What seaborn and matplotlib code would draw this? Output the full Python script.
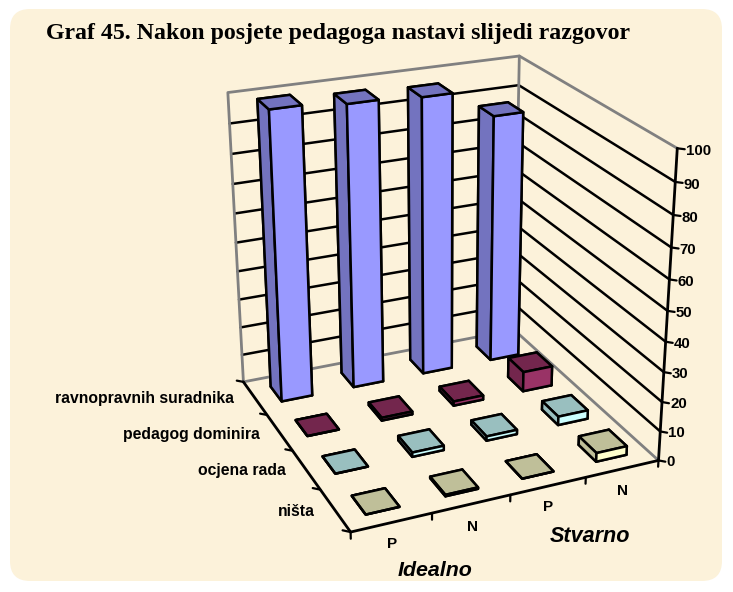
import matplotlib
matplotlib.use("Agg")

import matplotlib.pyplot as plt
import seaborn as sns
from matplotlib.patches import FancyBboxPatch
from matplotlib.transforms import IdentityTransform
from mpl_toolkits.mplot3d import proj3d

W, H = 733, 592

# ---------------------------------------------------------------------------
# DATA
# ---------------------------------------------------------------------------
COLUMN_LABELS = ["P", "N", "P", "N"]
ROW_LABELS = ["ništa", "ocjena rada", "pedagog dominira", "ravnopravnih suradnika"]
Z_TICKS = [0, 10, 20, 30, 40, 50, 60, 70, 80, 90, 100]

nista = [0, 0.5, 0, 3]
ocjena_rada = [0, 1.5, 1.5, 3]
pedagog_dominira = [0, 1, 1.5, 7]
ravnopravnih_suradnika = [99, 97.5, 96.5, 87]

# (front face, top and side face) for each row
ROW_COLORS = [
    ("#FFFFCC", "#BFBF99"),
    ("#CCFFFF", "#99BFBF"),
    ("#993366", "#73264D"),
    ("#9999FF", "#7373BF"),
]

# ---------------------------------------------------------------------------
# CAMERA (scale and shift go from projected units to pixels)
# ---------------------------------------------------------------------------
ELEV, AZIM, FOCAL = 23.681, -113.6463, 0.5589
BOX = (1, 1.0038, 1.0026)
SCALE, SHIFT_X, SHIFT_Y = 2974.492, 441.650, 275.163

BAR_W = 0.42
BAR_D = 0.45
GREY = "#808080"

sns.set_theme(style="white")
plt.rcParams["font.family"] = ["Liberation Sans", "DejaVu Sans"]


def fig_text(px, py, s, **kw):
    fig.text(px / W, 1 - py / H, s, **kw)


fig = plt.figure(figsize=(W / 100, H / 100), dpi=100, facecolor="white")

panel = FancyBboxPatch((10, H - 581), 712, 572, boxstyle="round,pad=0,rounding_size=20",
                       transform=IdentityTransform(), facecolor="#FCF2DA", edgecolor="none", zorder=-1)
fig.add_artist(panel)

ax = fig.add_axes([0, 0, 1, 1], projection="3d")
ax.set_xlim(0, 4)
ax.set_ylim(0, 4)
ax.set_zlim(0, 100)
ax.view_init(elev=ELEV, azim=AZIM)
ax.set_proj_type("persp", focal_length=FOCAL)
ax.set_box_aspect(BOX)
ax.set_axis_off()
ax.patch.set_alpha(0)
ax.computed_zorder = False

# place the axes so that projected units land on the right pixels
vl = ax.viewLim
side = SCALE * vl.width
ax.set_position([(SHIFT_X + SCALE * vl.x0) / W, (H - SHIFT_Y + SCALE * vl.y0) / H, side / W, side / H])

order = 1

# walls: grey outline, black grid lines
for z in Z_TICKS[1:-1]:
    ax.plot([0, 4], [4, 4], [z, z], color="black", lw=1.8, zorder=order)
    ax.plot([4, 4], [4, 0], [z, z], color="black", lw=1.8, zorder=order)
ax.plot([0, 0, 4, 4], [4, 4, 4, 0], [0, 100, 100, 100], color=GREY, lw=2, zorder=order)
ax.plot([4, 4], [4, 4], [0, 100], color=GREY, lw=2, zorder=order)
ax.plot([0, 4, 4], [4, 4, 0], [0, 0, 0], color=GREY, lw=2, zorder=order)

# axes and ticks
ax.plot([0, 4], [0, 0], [0, 0], color="black", lw=2, zorder=order)
ax.plot([0, 0], [0, 4], [0, 0], color="black", lw=2, zorder=order)
ax.plot([4, 4], [0, 0], [0, 100], color="black", lw=2, zorder=order)
for i in range(5):
    ax.plot([i, i], [0, 0], [0, -2.2], color="black", lw=1.6, zorder=order)
    ax.plot([0, -0.07], [i, i + 0.07], [0, 0], color="black", lw=1.6, zorder=order)

M = ax.get_proj()
for z in Z_TICKS:
    ax.plot([4, 4.06], [0, -0.06], [z, z], color="black", lw=1.6, zorder=order)
    xp, yp, _ = proj3d.proj_transform(4.07, -0.07, z, M)
    fig_text(SHIFT_X + SCALE * xp, SHIFT_Y - SCALE * yp + 0.02 * z, str(z), ha="left", va="center",
             fontsize=10.8, fontweight="bold", color="black")

# bars, far ones first
rows = [nista, ocjena_rada, pedagog_dominira, ravnopravnih_suradnika]
for j in range(3, -1, -1):
    front, dark = ROW_COLORS[j]
    # bottom, top, -y, +y, -x, +x
    faces = [dark, dark, front, front, dark, dark]
    for i in range(3, -1, -1):
        order += 1
        coll = ax.bar3d(i + 0.5 - BAR_W / 2, j + 0.5 - BAR_D / 2, 0, BAR_W, BAR_D, rows[j][i],
                        color=faces, edgecolor="black", linewidth=1.8, shade=False)
        coll.set_zorder(order)

# text
fig_text(46, 33, "Graf 45. Nakon posjete pedagoga nastavi slijedi razgovor", ha="left", va="center",
         family="Liberation Serif", fontweight="bold", fontsize=17.2, color="black")

for (px, py), s in zip([(392, 544), (472, 527), (548, 507), (623, 491)], COLUMN_LABELS):
    fig_text(px, py, s, ha="center", va="center", fontsize=11, fontweight="bold", color="black")
for (px, py), s in zip([(315, 511), (286, 470), (260, 434), (234, 398)], ROW_LABELS):
    fig_text(px, py, s, ha="right", va="center", fontsize=11.3, fontweight="bold", color="black")

fig_text(590, 537, "Stvarno", ha="center", va="center", fontsize=15.6, fontweight="bold", style="italic", color="black")
fig_text(435, 571, "Idealno", ha="center", va="center", fontsize=15.4, fontweight="bold", style="italic", color="black")

fig.savefig("out.png", dpi=100)
